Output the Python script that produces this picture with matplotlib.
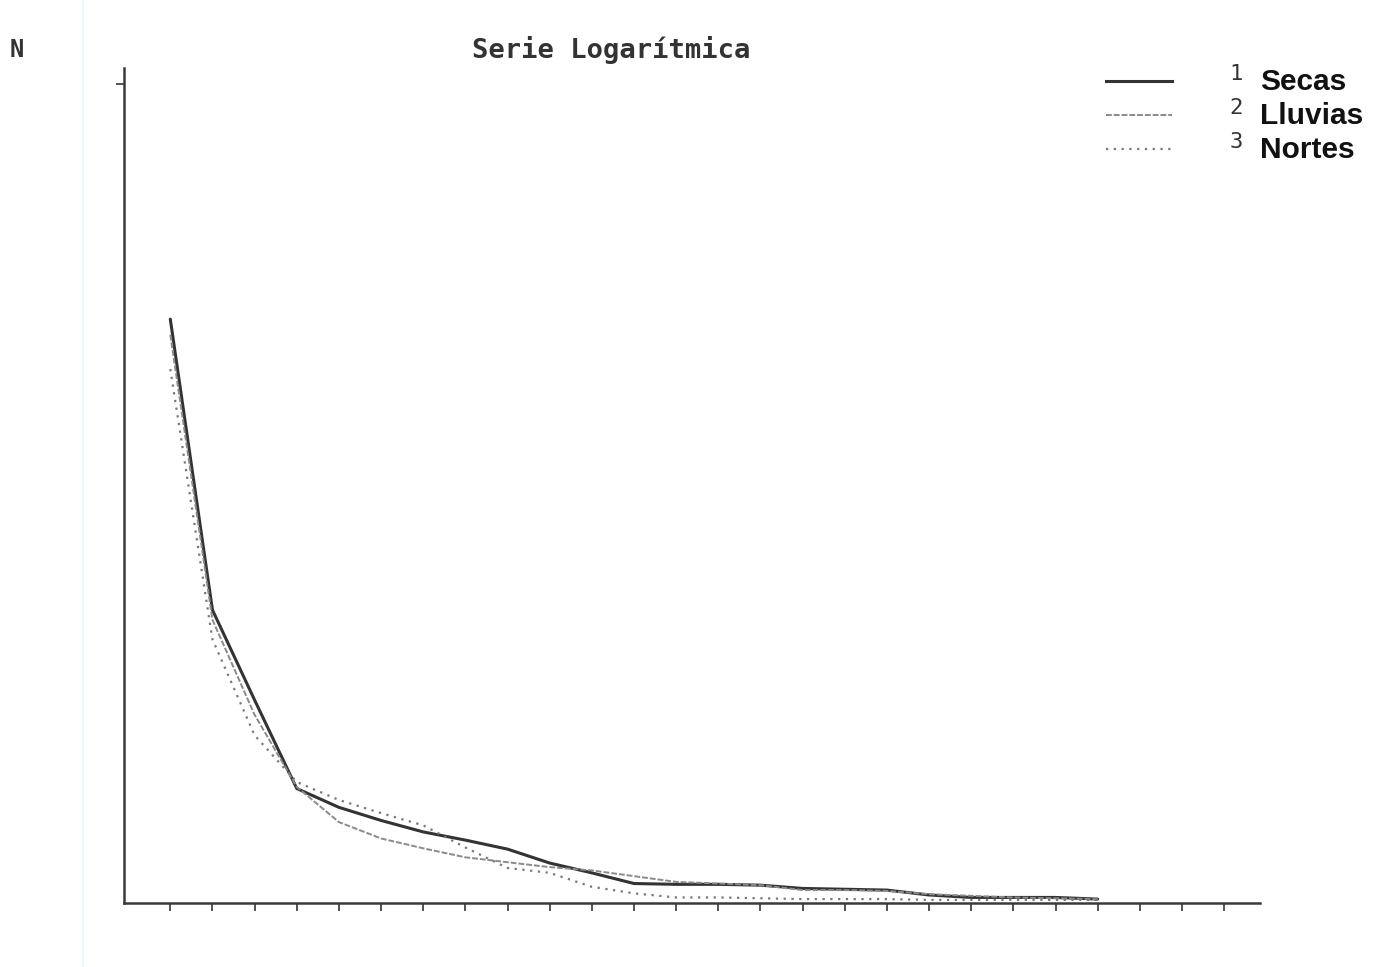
import matplotlib.pyplot as plt
from matplotlib.lines import Line2D

# abundancia por rango (escala arbitraria)
rango = list(range(1, 24))
secas = [71.3, 35.8, 24.8, 14.0, 11.7, 10.1, 8.7, 7.7, 6.6, 4.9, 3.7, 2.4,
         2.3, 2.3, 2.2, 1.8, 1.7, 1.6, 1.0, 0.7, 0.7, 0.7, 0.5]
lluvias = [69.4, 34.6, 23.0, 14.2, 9.9, 7.9, 6.7, 5.6, 5.0, 4.4, 4.0, 3.3,
           2.6, 2.4, 2.2, 1.6, 1.6, 1.5, 1.1, 0.9, 0.7, 0.6, 0.5]
nortes = [65.2, 32.2, 20.5, 14.8, 12.6, 11.0, 9.5, 6.8, 4.3, 3.7, 2.0, 1.2,
          0.7, 0.7, 0.6, 0.5, 0.5, 0.5, 0.4, 0.4, 0.4, 0.4, 0.4]
nombres = ['Secas', 'Lluvias', 'Nortes']
xticks = list(range(1, 27))

mono = 'DejaVu Sans Mono'

fig = plt.figure(figsize=(13.77, 9.67), dpi=100)
ax = fig.add_axes([0.090, 0.066, 0.825, 0.864])

# linea tenue del escaneo
fig.add_artist(Line2D([0.060, 0.060], [0.0, 1.0], transform=fig.transFigure,
                      color='#e8f8fb', lw=1.5))

ax.plot(rango, secas, color='#333333', lw=2.2, solid_capstyle='round')
ax.plot(rango, lluvias, color='#8a8a8a', lw=1.4, ls=(0, (3, 1)))
ax.plot(rango, nortes, color='#777777', lw=1.6, ls=(0, (1, 2.5)))

ax.set_xlim(-0.1, 26.85)
ax.set_ylim(0, 102)
ax.set_xticks(xticks)
ax.set_xticklabels([])
ax.set_yticks([100])
ax.set_yticklabels([])
ax.tick_params(axis='x', direction='out', length=6, width=1.3, color='#444444')
ax.tick_params(axis='y', direction='out', length=6, width=1.3, color='#444444')
for s in ['top', 'right']:
    ax.spines[s].set_visible(False)
for s in ['left', 'bottom']:
    ax.spines[s].set_color('#3a3a3a')
    ax.spines[s].set_linewidth(1.8)

fig.text(0.444, 0.948, 'Serie Logarítmica', family=mono, fontweight='bold',
         fontsize=19.5, color='#333333', ha='center', va='center')
fig.text(0.012, 0.948, 'N', family=mono, fontweight='bold', fontsize=17,
         color='#333333', ha='center', va='center')

# leyenda dibujada a mano
estilos = [dict(color='#333333', lw=2.2),
           dict(color='#8a8a8a', lw=1.4, ls=(0, (3, 1))),
           dict(color='#777777', lw=1.6, ls=(0, (1, 2.5)))]
ys = [0.916, 0.881, 0.846]
for i, (nom, est, yy) in enumerate(zip(nombres, estilos, ys)):
    fig.add_artist(Line2D([0.803, 0.851], [yy, yy], transform=fig.transFigure, **est))
    fig.text(0.898, yy + 0.007, str(i + 1), family=mono, fontsize=16,
             color='#333333', ha='center', va='center')
    fig.text(0.915, yy - 0.001, nom, family='Liberation Sans', fontweight='bold',
             fontsize=21.5, color='#111111', ha='left', va='center')

fig.savefig('out.png', dpi=100)
